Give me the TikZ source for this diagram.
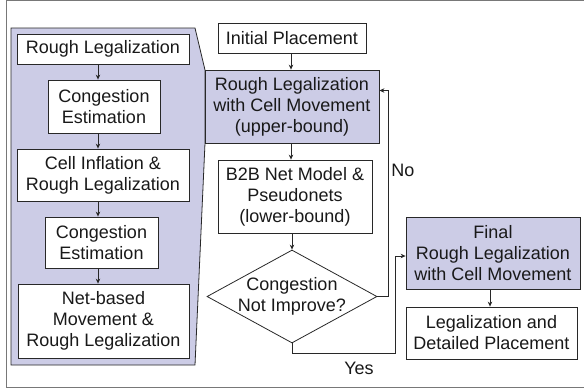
\documentclass[tikz,border=0pt]{standalone}
\usepackage{fontspec}
\setmainfont{Liberation Sans}
\usetikzlibrary{arrows.meta,shapes.geometric}
\definecolor{lav}{RGB}{204,204,230}
\definecolor{ln}{RGB}{40,40,40}
\definecolor{frm}{RGB}{120,120,120}
\begin{document}
\begin{tikzpicture}[x=1pt,y=-1pt,
  every node/.style={font=\fontsize{18}{21}\selectfont, text=black!90},
  box/.style={draw=ln, line width=0.8pt, fill=white, align=center, inner sep=0pt},
  hbox/.style={box, fill=lav},
  arr/.style={draw=ln, line width=0.8pt, -{Stealth[length=5pt,width=4.5pt]}},
  lbl/.style={inner sep=0pt}]
\useasboundingbox (0,0) rectangle (584,389);
\fill[white] (0,0) rectangle (584,389);
\draw[frm, line width=1pt] (584,0.5) -- (6,0.5) -- (6,387) -- (584,387);
% callout panel
\draw[ln, line width=0.8pt, fill=lav] (11,28) -- (195,28) -- (205,70) -- (205,143) -- (195,365) -- (11,365) -- cycle;
% left boxes
\node[box, minimum width=172, minimum height=30] (lb1) at (103,49) {Rough Legalization};
\node[box, minimum width=112, minimum height=53] (lb2) at (104,106.5) {Congestion\\Estimation};
\node[box, minimum width=172, minimum height=52] (lb3) at (103,175) {Cell Inflation \&\\Rough Legalization};
\node[box, minimum width=113, minimum height=51] (lb4) at (101.5,242.5) {Congestion\\Estimation};
\node[box, minimum width=171, minimum height=74] (lb5) at (103.5,321) {Net-based\\Movement \&\\Rough Legalization};
\coordinate (ax) at (98,0);
\draw[arr] (lb1.south -| ax) -- (lb2.north -| ax);
\draw[arr] (lb2.south -| ax) -- (lb3.north -| ax);
\draw[arr] (lb3.south -| ax) -- (lb4.north -| ax);
\draw[arr] (lb4.south -| ax) -- (lb5.north -| ax);
% right flow
\node[box, minimum width=148, minimum height=30] (ip) at (292,38) {Initial Placement};
\node[hbox, minimum width=174, minimum height=73] (rl) at (292,106.5) {Rough Legalization\\with Cell Movement\\(upper-bound)};
\node[box, minimum width=154, minimum height=73] (b2b) at (295,196.5) {B2B Net Model \&\\Pseudonets\\(lower-bound)};
\node[diamond, draw=ln, line width=0.8pt, fill=white, minimum width=170, minimum height=93, inner sep=0pt] (d) at (292,296.5) {};
\node[align=center, inner sep=0pt] (dt) at (d.center) {Congestion\\Not Improve?};
\node[hbox, minimum width=174, minimum height=72] (fin) at (493,253) {Final\\Rough Legalization\\with Cell Movement};
\node[box, minimum width=171, minimum height=52] (leg) at (491.5,333) {Legalization and\\Detailed Placement};
\draw[arr] (ip.south -| 291,0) -- (rl.north -| 291,0);
\draw[arr] (rl.south -| 291,0) -- (b2b.north -| 291,0);
\draw[arr] (b2b.south -| d.north) -- (d.north);
\draw[arr] (d.east) -- ++(11,0) |- ([yshift=16pt]rl.east);
\coordinate (yc) at (395,353);
\draw[arr] (d.south) |- (yc) |- ([yshift=-3pt]fin.west);
\draw[arr] (fin.south -| 490,0) -- (leg.north -| 490,0);
\node[lbl] (no) at (403,170) {No};
\node[lbl] (yes) at (359,368) {Yes};
\end{tikzpicture}
\end{document}
